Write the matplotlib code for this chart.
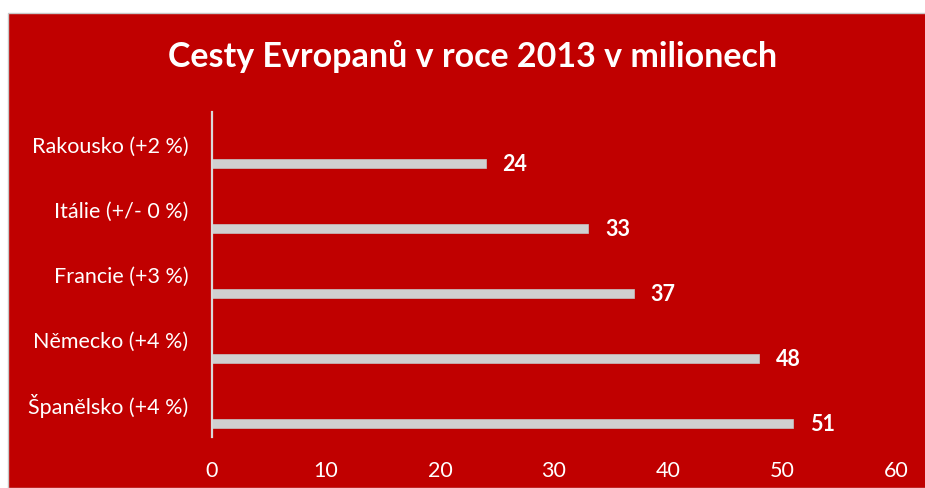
import matplotlib.pyplot as plt
from matplotlib.patches import Rectangle

countries = ["Rakousko (+2 %)", "Itálie (+/- 0 %)", "Francie (+3 %)",
             "Německo (+4 %)", "Španělsko (+4 %)"]
trips = [24, 33, 37, 48, 51]
xticks = [0, 10, 20, 30, 40, 50, 60]

RED = "#C00000"
BAR = "#D0D0D0"
FONT = ["Lato", "DejaVu Sans"]

plt.rcParams["font.family"] = FONT

fig = plt.figure(figsize=(9.25, 4.88), dpi=100, facecolor="white")

# red chart area with a thin grey frame
fig.patches.append(Rectangle((8 / 925, 0), 1, 1 - 13 / 488, transform=fig.transFigure,
                             facecolor=RED, edgecolor="#C8C8C8", linewidth=1, zorder=-1))

ax = fig.add_axes([212 / 925, 1 - 437 / 488, 684 / 925, 325 / 488])
ax.set_zorder(1)
ax.set_facecolor("none")

pos = list(range(len(countries)))
# bars sit in the lower part of each category slot
bar_pos = [p + 0.29 for p in pos]
ax.barh(bar_pos, trips, height=0.148, color=BAR, edgecolor="#C4C4C4", linewidth=0.5)

for y, v in zip(bar_pos, trips):
    ax.annotate(str(v), (v, y), xytext=(12, -1), textcoords="offset points",
                ha="left", va="center", color="white", fontsize=15.5, fontweight="bold")

ax.set_xlim(0, 60)
ax.set_ylim(len(countries) - 0.5, -0.5)
ax.set_xticks(xticks)
ax.set_yticks(pos)
ax.set_yticklabels(countries)

for s in ["top", "right", "bottom"]:
    ax.spines[s].set_visible(False)
ax.spines["left"].set_color("#D9D9D9")
ax.spines["left"].set_linewidth(1.6)

ax.tick_params(axis="x", length=0, pad=17, labelsize=15.5, labelcolor="white")
ax.tick_params(axis="y", length=0, pad=17, labelsize=15.5, labelcolor="white")

fig.text(473 / 925, 1 - 57 / 488, "Cesty Evropanů v roce 2013 v milionech",
         ha="center", va="center", color="white", fontsize=24.5, fontweight="bold")

fig.savefig("out.png", dpi=100, facecolor=fig.get_facecolor())
